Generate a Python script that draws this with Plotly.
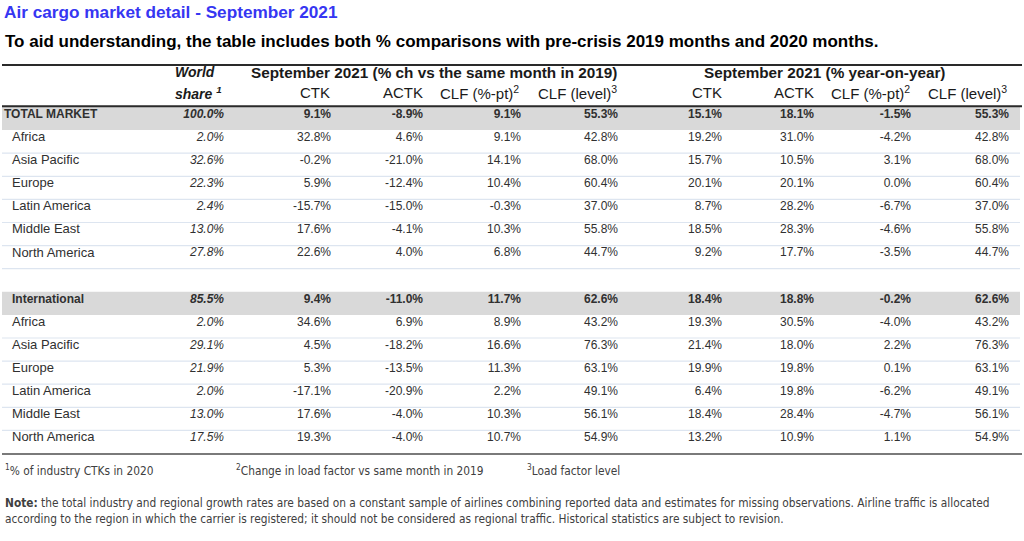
import plotly.graph_objects as go

# ---------------- data ----------------
regions = ["Africa", "Asia Pacific", "Europe", "Latin America", "Middle East", "North America"]
metric_labels = ["CTK", "ACTK", "CLF (%-pt)<sup>2</sup>", "CLF (level)<sup>3</sup>"]
group_labels = ["September 2021 (% ch vs the same month in 2019)", "September 2021 (% year-on-year)"]

total_label = "TOTAL MARKET"
total_share = 100.0
total_vs2019 = [9.1, -8.9, 9.1, 55.3]
total_yoy = [15.1, 18.1, -1.5, 55.3]

total_region_share = [2.0, 32.6, 22.3, 2.4, 13.0, 27.8]
total_ctk_19 = [32.8, -0.2, 5.9, -15.7, 17.6, 22.6]
total_actk_19 = [4.6, -21.0, -12.4, -15.0, -4.1, 4.0]
total_clfpt_19 = [9.1, 14.1, 10.4, -0.3, 10.3, 6.8]
total_clflv_19 = [42.8, 68.0, 60.4, 37.0, 55.8, 44.7]
total_ctk_yoy = [19.2, 15.7, 20.1, 8.7, 18.5, 9.2]
total_actk_yoy = [31.0, 10.5, 20.1, 28.2, 28.3, 17.7]
total_clfpt_yoy = [-4.2, 3.1, 0.0, -6.7, -4.6, -3.5]
total_clflv_yoy = [42.8, 68.0, 60.4, 37.0, 55.8, 44.7]

intl_label = "International"
intl_share = 85.5
intl_vs2019 = [9.4, -11.0, 11.7, 62.6]
intl_yoy = [18.4, 18.8, -0.2, 62.6]

intl_region_share = [2.0, 29.1, 21.9, 2.0, 13.0, 17.5]
intl_ctk_19 = [34.6, 4.5, 5.3, -17.1, 17.6, 19.3]
intl_actk_19 = [6.9, -18.2, -13.5, -20.9, -4.0, -4.0]
intl_clfpt_19 = [8.9, 16.6, 11.3, 2.2, 10.3, 10.7]
intl_clflv_19 = [43.2, 76.3, 63.1, 49.1, 56.1, 54.9]
intl_ctk_yoy = [19.3, 21.4, 19.9, 6.4, 18.4, 13.2]
intl_actk_yoy = [30.5, 18.0, 19.8, 19.8, 28.4, 10.9]
intl_clfpt_yoy = [-4.0, 2.2, 0.1, -6.2, -4.7, 1.1]
intl_clflv_yoy = [43.2, 76.3, 63.1, 49.1, 56.1, 54.9]

title_text = "Air cargo market detail - September 2021"
subtitle_text = ("To aid understanding, the table includes both % comparisons with "
                 "pre-crisis 2019 months and 2020 months.")
footnotes = ["<sup>1</sup>% of industry CTKs in 2020",
             "<sup>2</sup>Change in load factor vs same month in 2019",
             "<sup>3</sup>Load factor level"]
note_lines = ["<b>Note:</b> the total industry and regional growth rates are based on a constant sample "
              "of airlines combining reported data and estimates for missing observations. "
              "Airline traffic is allocated",
              "according to the region in which the carrier is registered; it should not be considered "
              "as regional traffic. Historical statistics are subject to revision."]

# ---------------- build table rows ----------------
rows = []  # (label, share, values, kind)
def add_section(label, share, v19, vyoy, shares, cols):
    rows.append((label, share, list(v19) + list(vyoy), "summary"))
    for i, r in enumerate(regions):
        rows.append((r, shares[i], [c[i] for c in cols], "region"))

add_section(total_label, total_share, total_vs2019, total_yoy, total_region_share,
            [total_ctk_19, total_actk_19, total_clfpt_19, total_clflv_19,
             total_ctk_yoy, total_actk_yoy, total_clfpt_yoy, total_clflv_yoy])
rows.append(("", None, [None] * 8, "blank"))
add_section(intl_label, intl_share, intl_vs2019, intl_yoy, intl_region_share,
            [intl_ctk_19, intl_actk_19, intl_clfpt_19, intl_clflv_19,
             intl_ctk_yoy, intl_actk_yoy, intl_clfpt_yoy, intl_clflv_yoy])

# ---------------- layout geometry (pixel-unit axes) ----------------
W, H = 1024, 541
TABLE_TOP = 107.0
ROW_H = 23.1
TEXT_DY = 7.7
LEFT, RIGHT = 2, 1022
share_x = 224
value_x = [331, 423, 521, 618, 722, 814, 911, 1009]
header_x = [331, 424, 520, 618, 723, 815, 911, 1008]
group_cx = [434, 824]

FONT = "Liberation Sans, Arial, sans-serif"
NARROW = "DejaVu Sans Condensed, sans-serif"
BODY = "#303030"

def row_top(i):
    return TABLE_TOP + i * ROW_H

n = len(rows)
ys = [row_top(i) + TEXT_DY for i in range(n)]

fig = go.Figure()

def text_trace(xs, yv, tv, pos, size, weight="normal", style="normal"):
    fig.add_trace(go.Scatter(x=xs, y=yv, text=tv, mode="text", textposition=pos,
                             textfont=dict(family=FONT, size=size, color=BODY,
                                           weight=weight, style=style),
                             hoverinfo="skip", showlegend=False, cliponaxis=False))

for want in ("summary", "region"):
    bold = "bold" if want == "summary" else "normal"
    idx = [i for i, r in enumerate(rows) if r[3] == want]
    # label column
    text_trace([4 if (want == "summary" and i == 0) else 12 for i in idx],
               [ys[i] for i in idx], [rows[i][0] for i in idx],
               "middle right", 12 if want == "summary" else 13, weight=bold)
    # share column (italic)
    text_trace([share_x] * len(idx), [ys[i] for i in idx],
               [f"{rows[i][1]:.1f}%" for i in idx], "middle left", 12,
               weight=bold, style="italic")
    # value columns
    vx, vy, vt = [], [], []
    for i in idx:
        for j, v in enumerate(rows[i][2]):
            vx.append(value_x[j])
            vy.append(ys[i])
            vt.append(f"{v:.1f}%")
    text_trace(vx, vy, vt, "middle left", 12, weight=bold)

shapes = []
# grey bands for summary rows
for i, (label, share, vals, kind) in enumerate(rows):
    if kind == "summary":
        shapes.append(dict(type="rect", xref="x", yref="y", x0=LEFT, x1=1020,
                           y0=row_top(i), y1=row_top(i + 1), fillcolor="#d9d9d9",
                           line=dict(width=0), layer="below"))
# light row separators
for i, (label, share, vals, kind) in enumerate(rows[:-1]):
    if kind in ("region", "blank") and rows[i + 1][3] != "summary":
        yb = row_top(i + 1)
        shapes.append(dict(type="line", xref="x", yref="y", x0=LEFT, x1=1020, y0=yb, y1=yb,
                           line=dict(color="#dde5f0", width=1.2), layer="below"))
# heavy rules
shapes.append(dict(type="line", xref="x", yref="y", x0=LEFT, x1=RIGHT, y0=65, y1=65,
                   line=dict(color="#2a2a2a", width=2)))
shapes.append(dict(type="line", xref="x", yref="y", x0=LEFT, x1=RIGHT, y0=106.3, y1=106.3,
                   line=dict(color="#2a2a2a", width=2)))
shapes.append(dict(type="line", xref="x", yref="y", x0=LEFT, x1=RIGHT, y0=row_top(n) + 0.5,
                   y1=row_top(n) + 0.5, line=dict(color="#7a7a7a", width=2)))

ann = []
def A(x, y, text, size, anchor="left", family=FONT, color="#1a1a1a"):
    ann.append(dict(x=x, y=y, xref="x", yref="y", text=text, showarrow=False,
                    xanchor=anchor, yanchor="middle", borderpad=0,
                    font=dict(family=family, size=size, color=color)))

A(4, 41, f"<b>{subtitle_text}</b>", 17, color="#000000")
A(216, 72, "<b><i>World</i></b>", 14, anchor="right")
A(223, 92.5, "<b><i>share <sup>1</sup></i></b>", 14, anchor="right")
for g, cx in enumerate(group_cx):
    A(cx, 72, f"<b>{group_labels[g]}</b>", 15.3, anchor="center")
for j in range(8):
    A(header_x[j], 92.5, metric_labels[j % 4], 15, anchor="right")
for fx, t in zip([4, 235, 526], footnotes):
    A(fx, 470, t, 11.8, family=NARROW, color="#404040")
A(4, 503, note_lines[0], 11.8, family=NARROW, color="#404040")
A(4, 519, note_lines[1], 11.8, family=NARROW, color="#404040")

fig.update_layout(
    width=W, height=H,
    margin=dict(l=0, r=0, t=0, b=0),
    paper_bgcolor="white", plot_bgcolor="white",
    xaxis=dict(range=[0, W], visible=False, fixedrange=True),
    yaxis=dict(range=[H, 0], visible=False, fixedrange=True),
    shapes=shapes, annotations=ann,
    title=dict(text=f"<b>{title_text}</b>", x=0.004, xanchor="left", xref="container",
               y=1 - 11.5 / H, yanchor="middle", yref="container",
               font=dict(family=FONT, size=17.2, color="#3636f2")),
    showlegend=False,
)

fig.write_html("out.html", config={"displayModeBar": False},
               post_script="document.body.style.margin='0';")
